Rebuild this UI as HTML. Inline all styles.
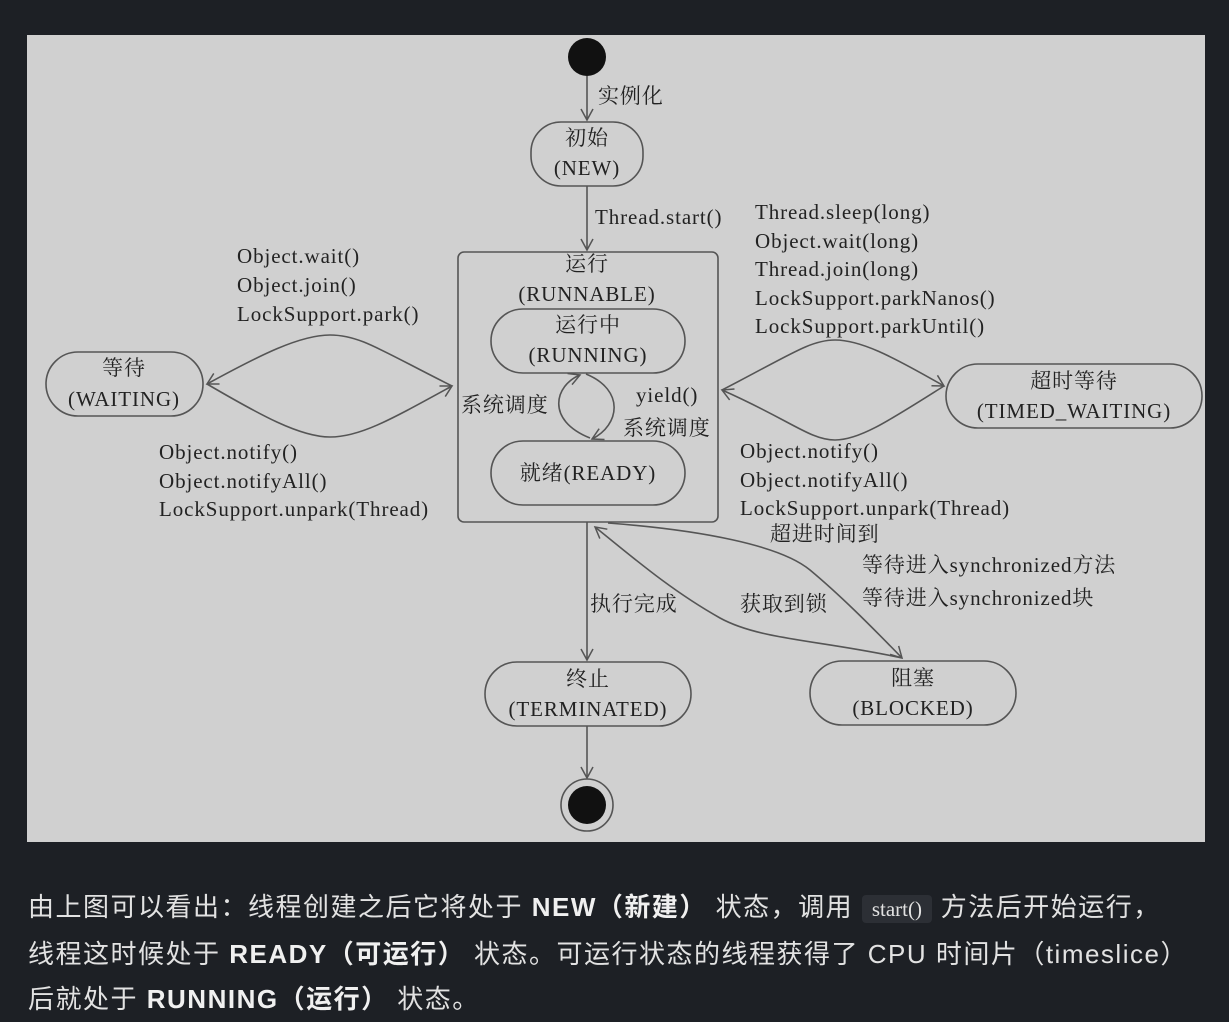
<!DOCTYPE html>
<html><head><meta charset="utf-8"><style>
html,body{margin:0;padding:0;background:#1d2025;width:1229px;height:1017px;overflow:hidden}
svg{position:absolute;left:0;top:0}
.t{font-family:"Liberation Serif","Noto Serif CJK SC",serif;font-size:21px;letter-spacing:0.9px;fill:#222}
p{position:absolute;left:28px;margin:0;color:#e2e2e2;font-family:"Liberation Sans","Noto Sans CJK SC",sans-serif;font-size:26px;letter-spacing:1.5px;line-height:45px;width:1200px}
b{color:#f0f0f0}
code{background:#2c2f35;border-radius:4px;padding:2px 10px;font-family:"Liberation Serif",serif;font-size:21px;letter-spacing:0}
</style></head><body>
<svg width="1229" height="1017" viewBox="0 0 1229 1017">
<defs><marker id="a" markerWidth="14" markerHeight="14" refX="12" refY="7" orient="auto" markerUnits="userSpaceOnUse"><path d="M1,1 L12,7 L1,13" fill="none" stroke="#555" stroke-width="1.5"/></marker></defs>
<rect x="27" y="35" width="1178" height="807" fill="#d0d0d0"/>
<g stroke="#555" stroke-width="1.6" fill="none">
<circle cx="587" cy="57" r="19" fill="#111" stroke="none"/>
<line x1="587" y1="76" x2="587" y2="120" marker-end="url(#a)"/>
<rect x="531" y="122" width="112" height="64" rx="30"/>
<line x1="587" y1="186" x2="587" y2="250" marker-end="url(#a)"/>
<rect x="458" y="252" width="260" height="270" rx="6"/>
<rect x="491" y="309" width="194" height="64" rx="32"/>
<rect x="491" y="441" width="194" height="64" rx="32"/>
<path d="M590,438 C545,420 555,385 580,375" marker-end="url(#a)"/>
<path d="M586,374 C625,390 620,425 592,439" marker-end="url(#a)"/>
<rect x="46" y="352" width="157" height="64" rx="32"/>
<path d="M452,386 C380,350 360,335 330,335 C300,335 260,355 207,384" marker-end="url(#a)"/>
<path d="M207,384 C260,415 300,437 330,437 C360,437 390,420 452,386" marker-end="url(#a)"/>
<rect x="946" y="364" width="256" height="64" rx="32"/>
<path d="M722,390 C790,355 810,340 835,340 C860,340 890,355 944,386" marker-end="url(#a)"/>
<path d="M944,386 C890,420 860,440 835,440 C810,440 790,420 722,390" marker-end="url(#a)"/>
<line x1="587" y1="522" x2="587" y2="660" marker-end="url(#a)"/>
<rect x="485" y="662" width="206" height="64" rx="32"/>
<line x1="587" y1="726" x2="587" y2="778" marker-end="url(#a)"/>
<circle cx="587" cy="805" r="26"/>
<circle cx="587" cy="805" r="19" fill="#111" stroke="none"/>
<rect x="810" y="661" width="206" height="64" rx="32"/>
<path d="M608,523 C700,530 780,545 810,570 C840,595 870,625 902,658" marker-end="url(#a)"/>
<path d="M902,658 C820,640 760,640 720,618 C670,590 630,555 595,527" marker-end="url(#a)"/>
</g>
<g class="t">
<text x="598" y="103">实例化</text>
<text x="587" y="145" text-anchor="middle">初始</text>
<text x="587" y="175" text-anchor="middle">(NEW)</text>
<text x="595" y="224">Thread.start()</text>
<text x="587" y="271" text-anchor="middle">运行</text>
<text x="587" y="301" text-anchor="middle">(RUNNABLE)</text>
<text x="588" y="332" text-anchor="middle">运行中</text>
<text x="588" y="362" text-anchor="middle">(RUNNING)</text>
<text x="588" y="480" text-anchor="middle">就绪(READY)</text>
<text x="461" y="412">系统调度</text>
<text x="636" y="402">yield()</text>
<text x="623" y="435">系统调度</text>
<text x="124" y="375" text-anchor="middle">等待</text>
<text x="124" y="406" text-anchor="middle">(WAITING)</text>
<text x="237" y="263">Object.wait()</text>
<text x="237" y="292">Object.join()</text>
<text x="237" y="321">LockSupport.park()</text>
<text x="159" y="459">Object.notify()</text>
<text x="159" y="488">Object.notifyAll()</text>
<text x="159" y="516">LockSupport.unpark(Thread)</text>
<text x="1074" y="388" text-anchor="middle">超时等待</text>
<text x="1074" y="418" text-anchor="middle">(TIMED_WAITING)</text>
<text x="755" y="219">Thread.sleep(long)</text>
<text x="755" y="248">Object.wait(long)</text>
<text x="755" y="276">Thread.join(long)</text>
<text x="755" y="305">LockSupport.parkNanos()</text>
<text x="755" y="333">LockSupport.parkUntil()</text>
<text x="740" y="458">Object.notify()</text>
<text x="740" y="487">Object.notifyAll()</text>
<text x="740" y="515">LockSupport.unpark(Thread)</text>
<text x="770" y="541">超进时间到</text>
<text x="862" y="572">等待进入synchronized方法</text>
<text x="862" y="605">等待进入synchronized块</text>
<text x="590" y="611">执行完成</text>
<text x="740" y="611">获取到锁</text>
<text x="588" y="686" text-anchor="middle">终止</text>
<text x="588" y="716" text-anchor="middle">(TERMINATED)</text>
<text x="913" y="685" text-anchor="middle">阻塞</text>
<text x="913" y="715" text-anchor="middle">(BLOCKED)</text>
</g>
</svg>
<p style="top:885px">由上图可以看出：线程创建之后它将处于 <b>NEW（新建）</b> 状态，调用 <code>start()</code> 方法后开始运行，<br>线程这时候处于 <b>READY（可运行）</b> 状态。可运行状态的线程获得了 CPU 时间片（timeslice）<br>后就处于 <b>RUNNING（运行）</b> 状态。</p>
</body></html>
